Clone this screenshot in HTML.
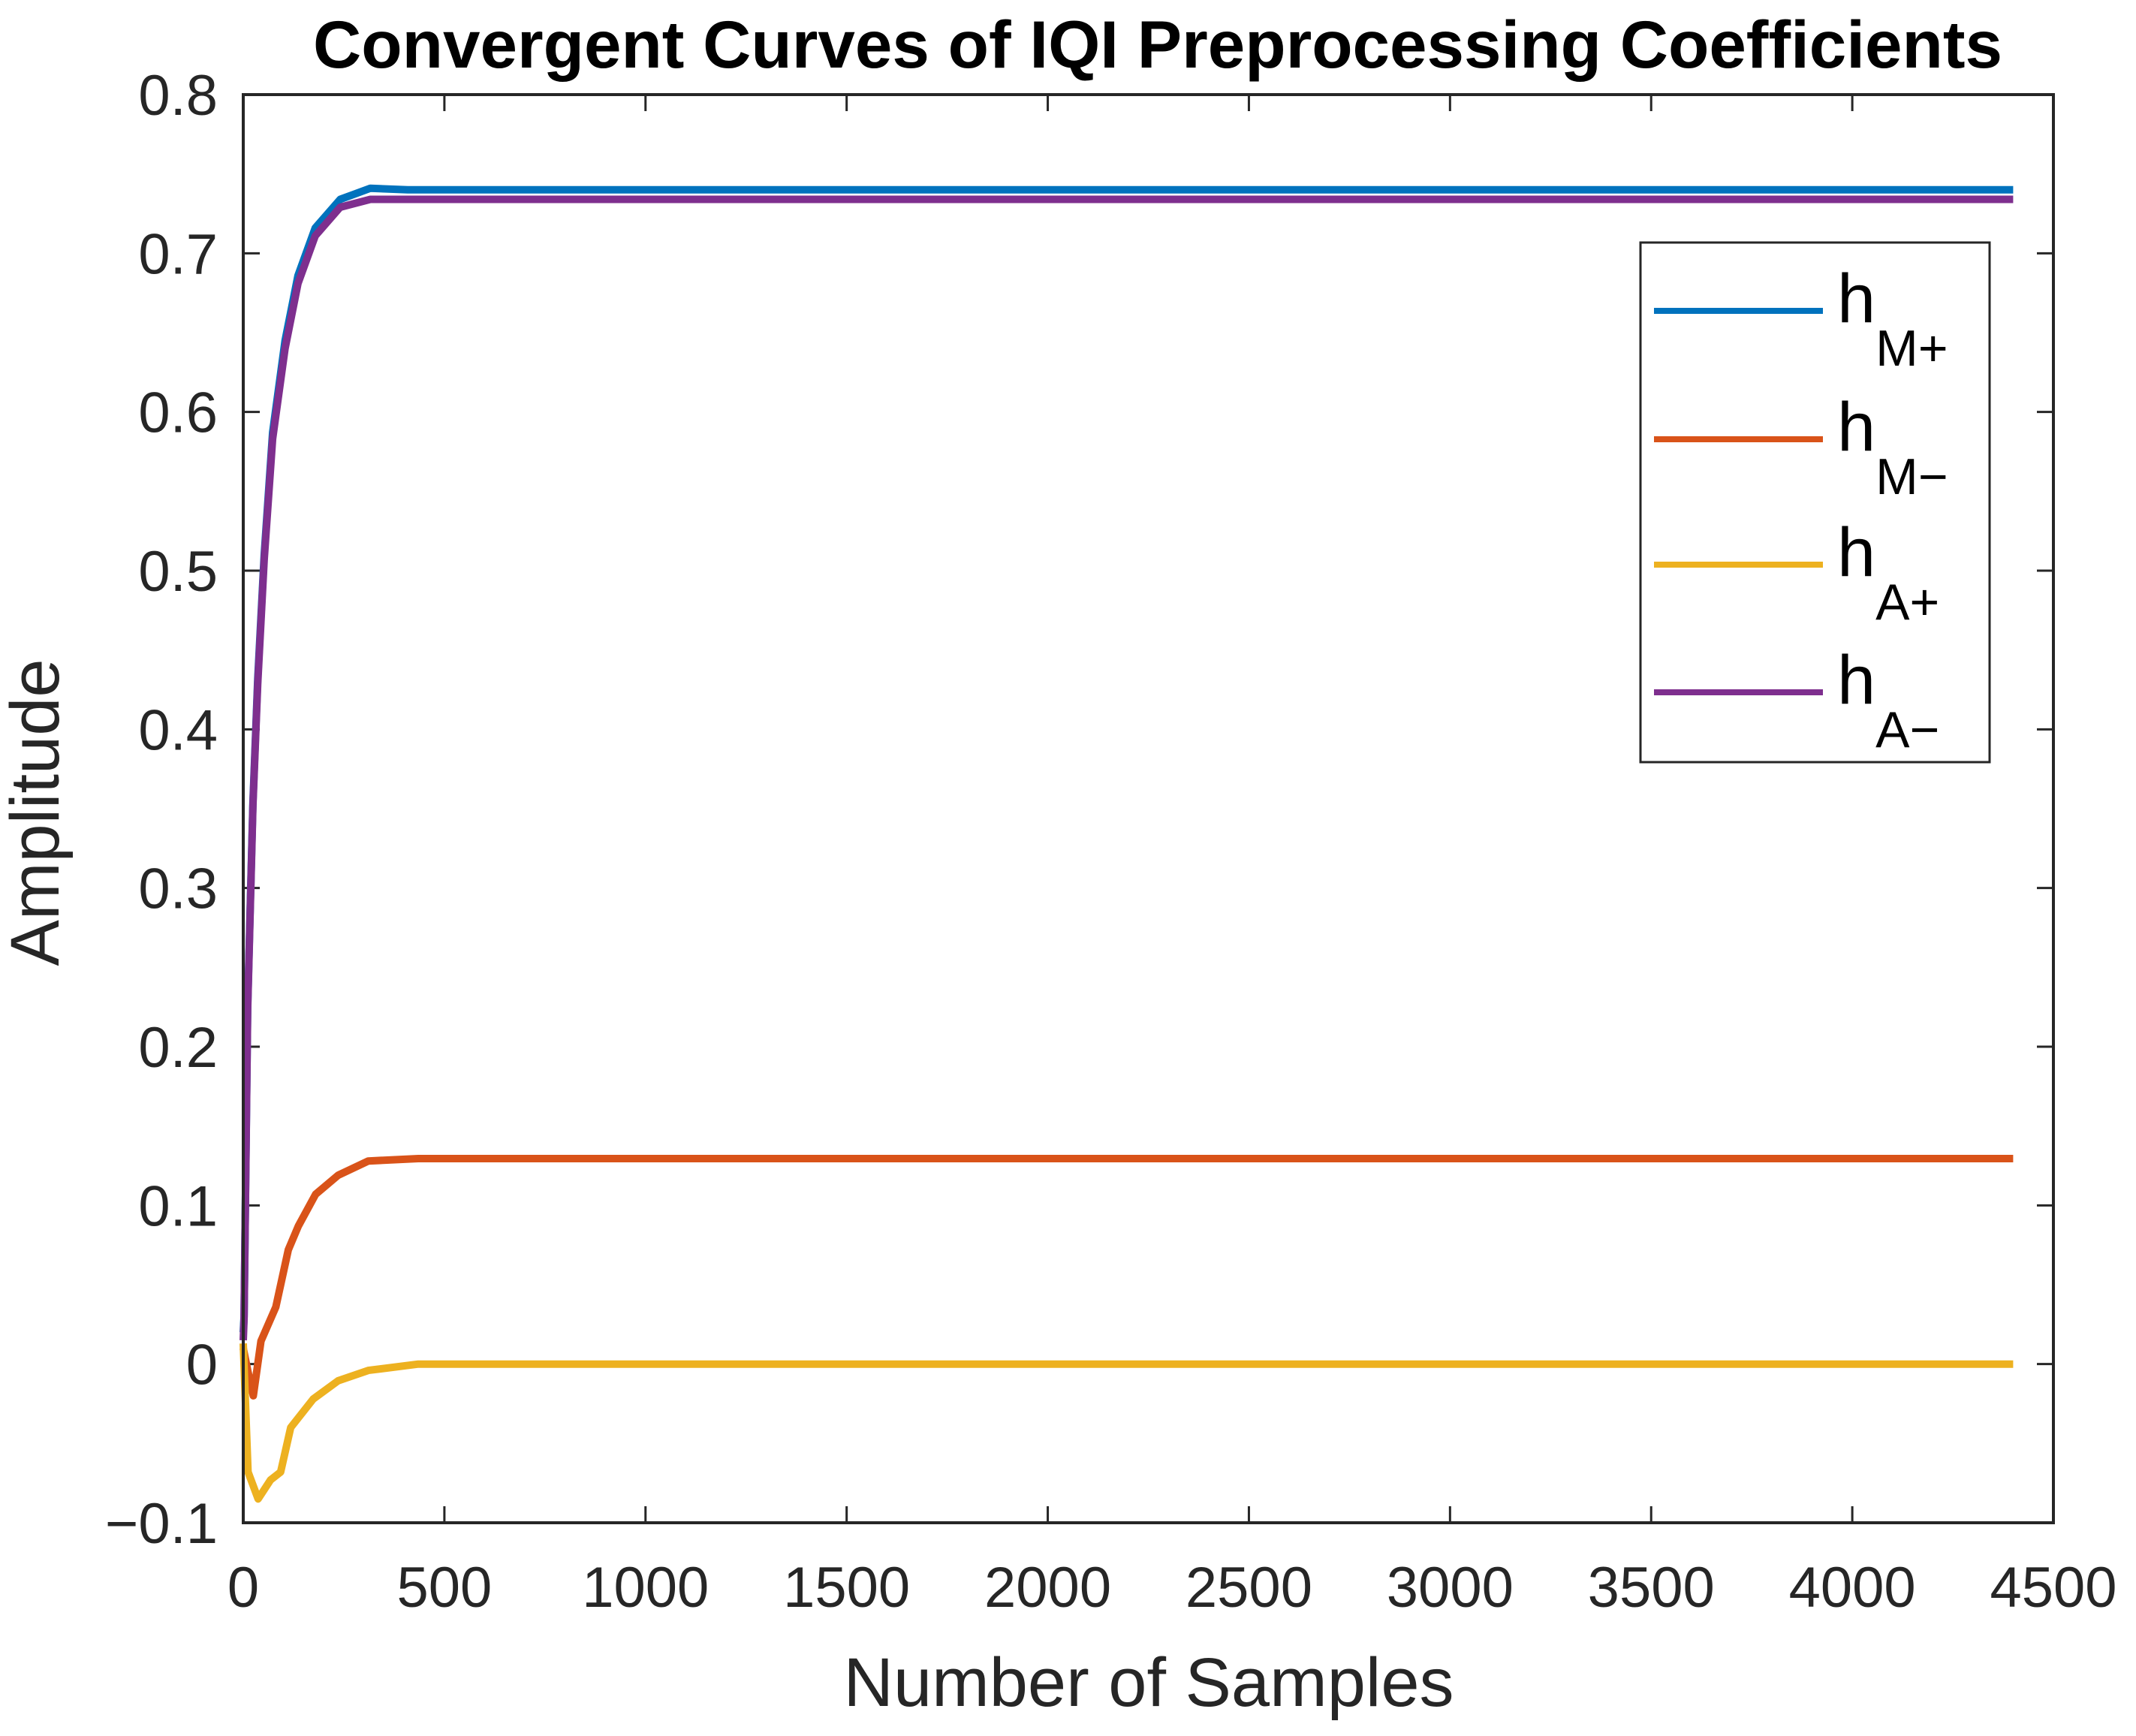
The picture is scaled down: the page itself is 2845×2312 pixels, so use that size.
<!DOCTYPE html>
<html><head><meta charset="utf-8"><style>
html,body{margin:0;padding:0;background:#fff;}
svg{display:block;}
text{font-family:"Liberation Sans",Arial,sans-serif;}
</style></head><body>
<svg id="chart" width="2845" height="2312" viewBox="0 0 2845 2312" xmlns="http://www.w3.org/2000/svg">
<rect x="0" y="0" width="2845" height="2312" fill="#fff"/>
<text x="1542" y="90" text-anchor="middle" font-size="89" font-weight="bold" fill="#000" textLength="2250" lengthAdjust="spacingAndGlyphs">Convergent Curves of IQI Preprocessing Coefficients</text>
<g id="grid"></g>
<g id="series"></g>
<rect x="324" y="126" width="2411" height="1902" fill="none" stroke="#262626" stroke-width="4"/>
<text x="1530" y="2272" text-anchor="middle" font-size="92" fill="#262626">Number of Samples</text>
<text transform="translate(78,1082) rotate(-90)" text-anchor="middle" font-size="92" fill="#262626">Amplitude</text>
<g>
<rect x="2185" y="323" width="465" height="692" fill="#fff" stroke="#262626" stroke-width="3"/>
<g id="legendEntries"></g>
</g>
</svg>
<script>
const xTicks = [0,500,1000,1500,2000,2500,3000,3500,4000,4500];
const yTicks = [-0.1,0,0.1,0.2,0.3,0.4,0.5,0.6,0.7,0.8];
const yTickLabels = ["\u22120.1","0","0.1","0.2","0.3","0.4","0.5","0.6","0.7","0.8"];
const seriesNames = ["hM+","hM-","hA+","hA-"];
const legendMain = ["h","h","h","h"];
const legendSub = ["M+","M\u2212","A+","A\u2212"];
const seriesColors = ["#0072BD","#D95319","#EDB120","#7E2F8E"];
const samples = [0,2,11,24,36,52,73,104,136,179,241,316,409,600,1000,2000,3000,4400];
const hMplus = [0.02,0.03,0.226,0.354,0.432,0.510,0.587,0.645,0.686,0.716,0.734,0.741,0.740,0.740,0.740,0.740,0.740,0.740];
const hAminus = [0.015,0.029,0.224,0.352,0.429,0.507,0.583,0.640,0.681,0.711,0.729,0.734,0.734,0.734,0.734,0.734,0.734,0.734];
const sMinus = [0,12,25,44,81,112,137,180,236,311,435,1000,2000,3000,4400];
const hMminus = [0.01,-0.005,-0.02,0.0145,0.036,0.072,0.087,0.107,0.119,0.128,0.1295,0.1295,0.1295,0.1295,0.1295];
const sAplus = [0,12,37,68,93,118,174,236,311,435,1000,2000,3000,4400];
const hAplus = [0.013,-0.068,-0.085,-0.073,-0.068,-0.04,-0.022,-0.0105,-0.004,0,0,0,0,0];

const X0=324, X1=2735, Y0=2028, Y1=126;
function xs(v){return X0+(v-0)/(4500-0)*(X1-X0);}
function ys(v){return Y0-(v-(-0.1))/(0.8-(-0.1))*(Y0-Y1);}
const NS="http://www.w3.org/2000/svg";
const grid=document.getElementById('grid');
function mk(tag,attrs,parent){const e=document.createElementNS(NS,tag);for(const k in attrs)e.setAttribute(k,attrs[k]);parent.appendChild(e);return e;}
xTicks.forEach((t,i)=>{
  const x=xs(t);
  const a=mk('line',{x1:x,x2:x,y1:Y0,y2:Y0-22,stroke:'#262626','stroke-width':3},grid);
  
  
  const b=mk('line',{x1:x,x2:x,y1:Y1,y2:Y1+22,stroke:'#262626','stroke-width':3},grid);
  
  
  const tx=mk('text',{x:x,y:2140,'text-anchor':'middle','font-size':76,fill:'#262626'},grid);
  tx.textContent=String(t);
  
  
});
yTicks.forEach((t,i)=>{
  const y=ys(t);
  const a=mk('line',{x1:X0,x2:X0+22,y1:y,y2:y,stroke:'#262626','stroke-width':3},grid);
  
  
  const b=mk('line',{x1:X1,x2:X1-22,y1:y,y2:y,stroke:'#262626','stroke-width':3},grid);
  
  
  const tx=mk('text',{x:290,y:y+27,'text-anchor':'end','font-size':76,fill:'#262626'},grid);
  tx.textContent=yTickLabels[i];
  
  
});
const sg=document.getElementById('series');
function line(xsArr,vals,color,name){
  const d=xsArr.map((s,i)=>(i?'L':'M')+xs(s).toFixed(1)+','+ys(vals[i]).toFixed(1)).join(' ');
  const p=mk('path',{d:d,fill:'none',stroke:color,'stroke-width':10,'stroke-linejoin':'round'},sg);
  
  
}
line(samples,hMplus,seriesColors[0],'series-hm-plus');
line(sMinus,hMminus,seriesColors[1],'series-hm-minus');
line(sAplus,hAplus,seriesColors[2],'series-ha-plus');
line(samples,hAminus,seriesColors[3],'series-ha-minus');
const lg=document.getElementById('legendEntries');
const ly=[414,585,752,922];
seriesNames.forEach((n,i)=>{
  const l=mk('line',{x1:2203,x2:2428,y1:ly[i],y2:ly[i],stroke:seriesColors[i],'stroke-width':8},lg);
  
  
  const t=mk('text',{x:2447,y:ly[i]+15,'font-size':92,fill:'#000'},lg);
  
  
  t.appendChild(document.createTextNode(legendMain[i]));
  const s=mk('tspan',{dy:58,'font-size':68},t);
  s.textContent=legendSub[i];
});
</script>
</body></html>
